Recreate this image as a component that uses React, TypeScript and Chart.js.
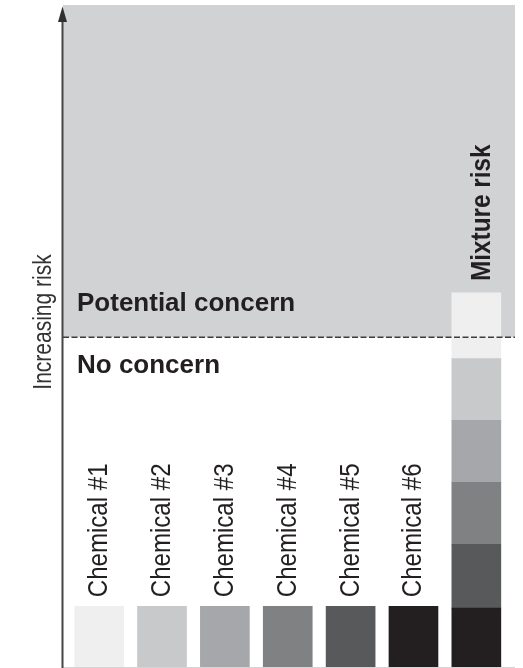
import React, { useEffect, useRef } from "react";
import { Chart, registerables } from "chart.js";

Chart.register(...registerables);

// ---- data ----
const categories = ["Chemical #1", "Chemical #2", "Chemical #3", "Chemical #4", "Chemical #5", "Chemical #6", "Mixture risk"];
// individual risk of each chemical (same order as categories 0..5)
const chemicalRisk = [0.98, 0.98, 0.98, 0.98, 0.98, 0.98];
// contribution of each chemical to the mixture stack (chemical #1..#6)
const mixtureShares = [1.06, 0.995, 1.0, 1.0, 1.03, 0.95];
const chemicalColors = ["#efeff0", "#c8c9cb", "#a6a7aa", "#808183", "#58595b", "#231f20"];
const concernThreshold = 5.32;
const riskMax = 10.68;
const zoneLabels = ["Potential concern", "No concern"];
const axisTitle = "Increasing risk";

const SANS = "'Liberation Sans', Arial, sans-serif";

// draw text rotated -90deg, horizontally condensed along reading direction
function drawRotated(ctx: CanvasRenderingContext2D, text: string, x: number, y: number, font: string, squeeze: number, align: CanvasTextAlign, color: string) {
  ctx.save();
  ctx.font = font;
  ctx.fillStyle = color;
  ctx.textAlign = align;
  ctx.textBaseline = "alphabetic";
  ctx.translate(x, y);
  ctx.rotate(-Math.PI / 2);
  ctx.scale(squeeze, 1);
  ctx.fillText(text, 0, 0);
  ctx.restore();
}

const decorPlugin = {
  id: "decor",
  beforeDatasetsDraw(chart: any) {
    const { ctx, chartArea, scales } = chart;
    const yT = scales.y.getPixelForValue(concernThreshold);
    ctx.save();
    ctx.fillStyle = "#d1d2d4";
    ctx.fillRect(chartArea.left, chartArea.top, chartArea.right - chartArea.left, yT - chartArea.top);
    ctx.restore();
  },
  afterDatasetsDraw(chart: any) {
    const { ctx, chartArea, scales } = chart;
    const x = scales.x;
    const y = scales.y;
    const yT = y.getPixelForValue(concernThreshold);
    ctx.save();

    // threshold dashed line
    ctx.strokeStyle = "#3d3d3d";
    ctx.lineWidth = 1.5;
    ctx.setLineDash([6, 2.5]);
    ctx.beginPath();
    ctx.moveTo(chartArea.left, yT);
    ctx.lineTo(chartArea.right, yT);
    ctx.stroke();
    ctx.setLineDash([]);

    // bottom baseline
    ctx.strokeStyle = "#d4d4d4";
    ctx.lineWidth = 1;
    ctx.beginPath();
    ctx.moveTo(chartArea.left, chartArea.bottom + 0.5);
    ctx.lineTo(chartArea.right, chartArea.bottom + 0.5);
    ctx.stroke();

    // y axis line with arrow
    const ax = chartArea.left - 0.5;
    ctx.strokeStyle = "#454545";
    ctx.lineWidth = 2;
    ctx.beginPath();
    ctx.moveTo(ax, chartArea.bottom + 1);
    ctx.lineTo(ax, chartArea.top + 14);
    ctx.stroke();
    ctx.fillStyle = "#2f2f2f";
    ctx.beginPath();
    ctx.moveTo(ax, chartArea.top + 1.5);
    ctx.lineTo(ax - 4.5, chartArea.top + 17);
    ctx.lineTo(ax + 4.5, chartArea.top + 17);
    ctx.closePath();
    ctx.fill();

    // zone labels
    ctx.fillStyle = "#231f20";
    ctx.textAlign = "left";
    ctx.textBaseline = "alphabetic";
    ctx.font = `bold 26px ${SANS}`;
    ctx.fillText(zoneLabels[0], chartArea.left + 14, yT - 26);
    ctx.fillText(zoneLabels[1], chartArea.left + 14, yT + 36);

    // axis title
    drawRotated(ctx, axisTitle, chartArea.left - 12, 322, `25px ${SANS}`, 0.84, "center", "#333333");

    // category labels (rotated, above bars)
    categories.forEach((label, j) => {
      const cx = x.getPixelForValue(j);
      if (j < 6) {
        const top = y.getPixelForValue(chemicalRisk[j]);
        drawRotated(ctx, label, cx + 8, top - 9, `28px ${SANS}`, 0.86, "left", "#231f20");
      } else {
        const top = y.getPixelForValue(mixtureShares.reduce((a, b) => a + b, 0));
        drawRotated(ctx, label, cx + 14, top - 12, `bold 27px ${SANS}`, 0.9, "left", "#231f20");
      }
    });

    ctx.restore();
  },
};

export default function App() {
  const ref = useRef<HTMLCanvasElement | null>(null);
  useEffect(() => {
    if (!ref.current) return;
    // stacking: chemical #6 at the bottom of the mixture bar, #1 at the top
    const datasets = [5, 4, 3, 2, 1, 0].map((i) => ({
      label: categories[i],
      data: categories.map((_, j) => ({
        x: j,
        y: j === i ? chemicalRisk[i] : j === 6 ? mixtureShares[i] : null,
      })),
      backgroundColor: chemicalColors[i],
      borderWidth: 0,
      barThickness: 49,
    }));
    const chart = new Chart(ref.current, {
      type: "bar",
      data: { datasets: datasets as any },
      options: {
        animation: false,
        responsive: false,
        layout: { padding: { left: 63, right: 8, top: 5, bottom: 1 } },
        plugins: { legend: { display: false }, tooltip: { enabled: false } },
        scales: {
          x: { type: "linear", display: false, stacked: true, offset: false, min: -0.575, max: 6.615, grid: { offset: false } },
          y: { display: false, stacked: true, min: 0, max: riskMax },
        },
      },
      plugins: [decorPlugin],
    });
    return () => chart.destroy();
  }, []);
  return (
    <div style={{ position: "fixed", left: 0, top: 0, width: 523, height: 668, background: "#fff" }}>
      <canvas ref={ref} width={523} height={668} style={{ display: "block", width: 523, height: 668 }} />
    </div>
  );
}
